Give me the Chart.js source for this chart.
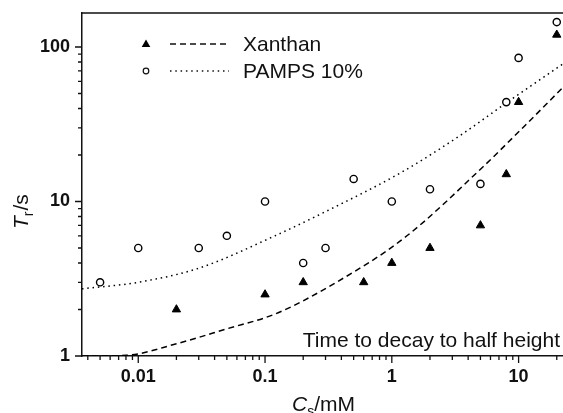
<!DOCTYPE html>
<html>
<head>
<meta charset="utf-8">
<script src="https://cdn.jsdelivr.net/npm/chart.js@4/dist/chart.umd.min.js"></script>
<style>
  html, body { margin: 0; padding: 0; background: #fff; overflow: hidden; }
  #wrap { width: 563px; height: 413px; position: relative; }
  #wrap canvas { display: block; }
</style>
</head>
<body>
<div id="wrap"><canvas id="myChart"></canvas></div>
<script>
// measured points
var xanthanConc = [0.02, 0.1, 0.2, 0.6, 1, 2, 5, 8, 10, 20];
var xanthanTime = [2.0, 2.5, 3.0, 3.0, 4.0, 5.0, 7.0, 15, 44, 120];
var pampsConc = [0.005, 0.01, 0.03, 0.05, 0.1, 0.2, 0.3, 0.5, 1, 2, 5, 8, 10, 20];
var pampsTime = [3.0, 5.0, 5.0, 6.0, 10, 4.0, 5.0, 14, 10, 12, 13, 44, 85, 145];

// fitted curves
var xanthanFitConc = [0.0036, 0.008, 0.02, 0.05, 0.12, 0.34, 1.25, 5.25, 11, 22.5];
var xanthanFitTime = [1.0, 1.01, 1.2, 1.5, 1.87, 2.9, 5.8, 16.8, 30.5, 55];
var pampsFitConc = [0.0036, 0.01, 0.03, 0.12, 0.3, 1.2, 3.4, 8.5, 22.5];
var pampsFitTime = [2.72, 3.0, 3.7, 6.0, 8.6, 15.5, 26.5, 45, 78];

var xMajor = [0.01, 0.1, 1, 10];
var yMajor = [1, 10, 100];
var legendLabels = ['Xanthan', 'PAMPS 10%'];
var annotationText = 'Time to decay to half height';

(function (window) {

    var FONT = "'Liberation Sans', Arial, sans-serif";
    var INK = '#111';

    function toPoints(xs, ys) {
        var out = [];
        for (var i = 0; i < xs.length; i++) {
            out.push({ x: xs[i], y: ys[i] });
        }
        return out;
    }

    function minorValues(min, max) {
        var vals = [];
        for (var e = -4; e <= 3; e++) {
            for (var m = 2; m <= 9; m++) {
                var v = m * Math.pow(10, e);
                if (v >= min && v <= max) vals.push(v);
            }
        }
        return vals;
    }

    // ticks, top border, legend, note and axis titles
    var extras = {
        id: 'extras',
        afterDraw: function (chart) {
            var ctx = chart.ctx;
            var xs = chart.scales.x;
            var ys = chart.scales.y;
            var area = chart.chartArea;
            var i, p;

            ctx.save();
            ctx.strokeStyle = INK;
            ctx.lineWidth = 1.3;
            ctx.beginPath();
            // top frame line
            ctx.moveTo(area.left, area.top);
            ctx.lineTo(area.right, area.top);
            // y ticks (outward)
            for (i = 0; i < yMajor.length; i++) {
                p = ys.getPixelForValue(yMajor[i]);
                ctx.moveTo(area.left - 7, p);
                ctx.lineTo(area.left, p);
            }
            var ym = minorValues(ys.min, ys.max);
            for (i = 0; i < ym.length; i++) {
                p = ys.getPixelForValue(ym[i]);
                ctx.moveTo(area.left - 4, p);
                ctx.lineTo(area.left, p);
            }
            // x ticks (outward)
            for (i = 0; i < xMajor.length; i++) {
                p = xs.getPixelForValue(xMajor[i]);
                ctx.moveTo(p, area.bottom);
                ctx.lineTo(p, area.bottom + 7);
            }
            var xm = minorValues(xs.min, xs.max);
            for (i = 0; i < xm.length; i++) {
                p = xs.getPixelForValue(xm[i]);
                ctx.moveTo(p, area.bottom);
                ctx.lineTo(p, area.bottom + 4);
            }
            ctx.stroke();

            // legend
            var rows = [
                { y: 44, ds: chart.data.datasets[2], text: legendLabels[0] },
                { y: 71, ds: chart.data.datasets[3], text: legendLabels[1] }
            ];
            rows.forEach(function (r, idx) {
                ctx.save();
                ctx.strokeStyle = INK;
                ctx.lineWidth = 1.2;
                ctx.beginPath();
                if (idx === 0) {
                    ctx.fillStyle = '#000';
                    ctx.moveTo(146, r.y - 4.5);
                    ctx.lineTo(150.3, r.y + 3);
                    ctx.lineTo(141.7, r.y + 3);
                    ctx.closePath();
                    ctx.fill();
                } else {
                    ctx.fillStyle = '#fff';
                    ctx.arc(146, r.y, 2.8, 0, Math.PI * 2);
                    ctx.fill();
                    ctx.stroke();
                }
                ctx.restore();

                ctx.save();
                ctx.strokeStyle = INK;
                ctx.lineWidth = r.ds.borderWidth;
                ctx.setLineDash(r.ds.borderDash);
                ctx.beginPath();
                ctx.moveTo(170, r.y);
                ctx.lineTo(229, r.y);
                ctx.stroke();
                ctx.restore();

                ctx.fillStyle = INK;
                ctx.font = '21px ' + FONT;
                ctx.textBaseline = 'middle';
                ctx.textAlign = 'left';
                ctx.fillText(r.text, 243, r.y + 1);
            });

            // note in the lower right
            ctx.fillStyle = INK;
            ctx.font = '21px ' + FONT;
            ctx.textAlign = 'right';
            ctx.textBaseline = 'alphabetic';
            ctx.fillText(annotationText, 560, 347);

            // x title: C_s/mM
            ctx.textAlign = 'left';
            var x0 = 292, by = 411;
            ctx.font = 'italic 21px ' + FONT;
            ctx.fillText('C', x0, by);
            x0 += ctx.measureText('C').width;
            ctx.font = '14px ' + FONT;
            ctx.fillText('s', x0, by + 5);
            x0 += ctx.measureText('s').width;
            ctx.font = '21px ' + FONT;
            ctx.fillText('/mM', x0, by);

            // y title: T_r/s, rotated
            ctx.save();
            ctx.translate(28, 229);
            ctx.rotate(-Math.PI / 2);
            var t0 = 0;
            ctx.font = 'italic 21px ' + FONT;
            ctx.fillText('T', t0, 0);
            t0 += ctx.measureText('T').width;
            ctx.font = '14px ' + FONT;
            ctx.fillText('r', t0, 5);
            t0 += ctx.measureText('r').width + 1;
            ctx.font = '21px ' + FONT;
            ctx.fillText('/s', t0, 0);
            ctx.restore();

            ctx.restore();
        }
    };

    function initializeChart() {
        var el = document.getElementById('myChart');
        if (!el) {
            return;
        }

        new Chart(el.getContext('2d'), {
            type: 'scatter',
            data: {
                datasets: [
                    {
                        label: legendLabels[0],
                        data: toPoints(xanthanConc, xanthanTime),
                        pointStyle: 'triangle',
                        pointRadius: 4.8,
                        backgroundColor: '#000',
                        borderColor: '#000',
                        borderWidth: 1,
                        order: 1
                    },
                    {
                        label: legendLabels[1],
                        data: toPoints(pampsConc, pampsTime),
                        pointStyle: 'circle',
                        pointRadius: 3.6,
                        backgroundColor: '#fff',
                        borderColor: '#000',
                        borderWidth: 1.4,
                        order: 2
                    },
                    {
                        label: legendLabels[0] + ' fit',
                        data: toPoints(xanthanFitConc, xanthanFitTime),
                        showLine: true,
                        pointRadius: 0,
                        borderColor: '#000',
                        borderWidth: 1.5,
                        borderDash: [6, 4],
                        cubicInterpolationMode: 'monotone',
                        order: 3
                    },
                    {
                        label: legendLabels[1] + ' fit',
                        data: toPoints(pampsFitConc, pampsFitTime),
                        showLine: true,
                        pointRadius: 0,
                        borderColor: '#000',
                        borderWidth: 1.5,
                        borderDash: [1.5, 3.8],
                        cubicInterpolationMode: 'monotone',
                        order: 4
                    }
                ]
            },
            options: {
                responsive: true,
                maintainAspectRatio: false,
                animation: false,
                events: [],
                layout: {
                    autoPadding: false,
                    padding: { top: 13, right: 0, left: 0, bottom: 0 }
                },
                plugins: {
                    legend: { display: false },
                    tooltip: { enabled: false }
                },
                scales: {
                    x: {
                        type: 'logarithmic',
                        min: 0.0036,
                        max: 22.4,
                        afterFit: function (s) {
                            s.height = 57;
                            s.paddingLeft = 0;
                            s.paddingRight = 0;
                        },
                        afterBuildTicks: function (s) {
                            s.ticks = xMajor.map(function (v) { return { value: v }; });
                        },
                        grid: { display: false, drawTicks: false },
                        border: { display: true, color: INK, width: 1.5 },
                        ticks: {
                            padding: 10,
                            maxRotation: 0,
                            autoSkip: false,
                            color: INK,
                            font: { family: FONT, size: 18, weight: 'bold' },
                            callback: function (v) { return String(v); }
                        }
                    },
                    y: {
                        type: 'logarithmic',
                        min: 1,
                        max: 166,
                        afterFit: function (s) {
                            s.width = 82;
                            s.paddingTop = 0;
                            s.paddingBottom = 0;
                        },
                        afterBuildTicks: function (s) {
                            s.ticks = yMajor.map(function (v) { return { value: v }; });
                        },
                        grid: { display: false, drawTicks: false },
                        border: { display: true, color: INK, width: 1.5 },
                        ticks: {
                            padding: 12,
                            autoSkip: false,
                            color: INK,
                            font: { family: FONT, size: 18, weight: 'bold' },
                            callback: function (v) { return String(v); }
                        }
                    }
                }
            },
            plugins: [extras]
        });
    }

    document.addEventListener('DOMContentLoaded', initializeChart);

})(window);
</script>
</body>
</html>
